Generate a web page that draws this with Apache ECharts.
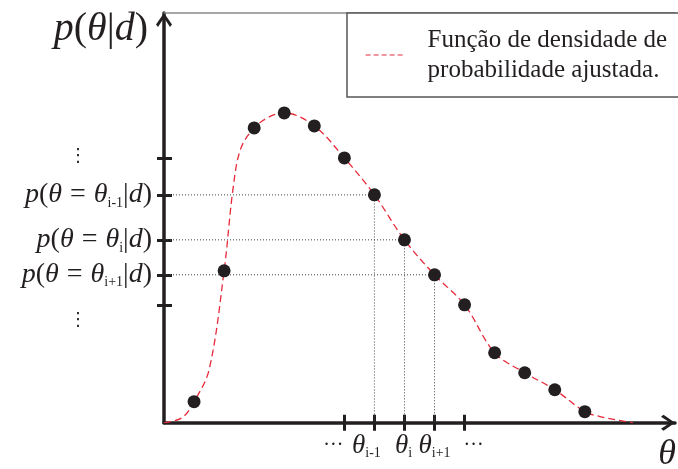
<!DOCTYPE html>
<html>
<head>
<meta charset="utf-8">
<script src="https://cdn.jsdelivr.net/npm/echarts@6/dist/echarts.min.js"></script>
<style>
  html, body { margin: 0; padding: 0; background: #fff; }
  #chart { width: 678px; height: 469px; }
</style>
</head>
<body>
<div id="chart"></div>
<script>
// Sampled posterior values p(theta_k | d) at the discrete theta positions
const theta = [1, 2, 3, 4, 5, 6, 7, 8, 9, 10, 11, 12, 13, 14];
const density = [2.1, 15.2, 29.5, 31.0, 29.7, 26.5, 22.8, 18.3, 14.8, 11.8, 7.0, 5.0, 3.3, 1.1];

// Fitted density curve
const curveTheta = [0, 0.6, 1, 1.5, 2, 2.3, 2.55, 3, 3.5, 4, 5, 6, 7, 8, 9, 10, 11, 12, 13, 14, 14.5, 15, 15.6];
const curveDensity = [0, 0.5, 2.1, 5.3, 15.2, 23.5, 27.4, 29.5, 30.6, 31.0, 29.7, 26.5, 22.8, 18.3, 14.8, 11.8, 7.0, 5.0, 3.3, 1.1, 0.62, 0.3, 0];

// Positions that carry axis ticks
const tickTheta = [6, 7, 8, 9, 10];
// Positions highlighted with dotted guide lines
const guideTheta = [7, 8, 9];

// Tick label pieces: main symbol and subscript
const xLabelMain = ['···', 'θ', 'θ', 'θ', '···'];
const xLabelSub = ['', 'i-1', 'i', 'i+1', ''];
const yLabelSub = ['', 'i-1', 'i', 'i+1', ''];

const legendName = 'Função de densidade de\nprobabilidade ajustada.';

const INK = '#231f20';
const RED = '#e62a3a';
const SERIF = 'Liberation Serif';

const densityAt = t => density[theta.indexOf(t)];
const yTickValues = tickTheta.map(densityAt);

function nearestIndex(list, v) {
  let best = 0;
  for (let i = 1; i < list.length; i++) {
    if (Math.abs(list[i] - v) < Math.abs(list[best] - v)) best = i;
  }
  return best;
}

// Horizontal nudges (px) for the x tick labels
const xNudge = [-11, -8, -1, 0, 9];

const xRich = {
  m: { fontFamily: SERIF, fontStyle: 'italic', fontSize: 27, color: INK, lineHeight: 30 },
  dots: { fontFamily: SERIF, fontSize: 20, color: INK, lineHeight: 30 },
  s: { fontFamily: SERIF, fontSize: 14, color: INK, lineHeight: 14, verticalAlign: 'bottom' }
};
xNudge.forEach((n, i) => {
  xRich['g' + i] = { width: Math.abs(n) * 2, fontSize: 10, lineHeight: 30 };
});

function xLabel(v) {
  const i = nearestIndex(tickTheta, v);
  const main = xLabelSub[i] ? '{m|' + xLabelMain[i] + '}{s|' + xLabelSub[i] + '}' : '{dots|' + xLabelMain[i] + '}';
  const gap = '{g' + i + '| }';
  return xNudge[i] < 0 ? main + gap : (xNudge[i] > 0 ? gap + main : main);
}

// Labels are split over two axes so their padded boxes never collide
const xLabelSetA = tickTheta.filter((t, i) => i % 2 === 0);
const xLabelSetB = tickTheta.filter((t, i) => i % 2 === 1);

const yRich = {
  it: { fontFamily: SERIF, fontStyle: 'italic', fontSize: 28, color: INK, lineHeight: 30 },
  rm: { fontFamily: SERIF, fontSize: 28, color: INK, lineHeight: 30 },
  eq: { fontFamily: SERIF, fontSize: 28, color: INK, lineHeight: 30, padding: [0, 8, 0, 8] },
  s: { fontFamily: SERIF, fontSize: 14, color: INK, lineHeight: 14, verticalAlign: 'bottom' },
  vt: { fontFamily: 'DejaVu Sans', fontSize: 18, color: INK, width: 148, align: 'center', padding: [0, 0, 4, 0] },
  vb: { fontFamily: 'DejaVu Sans', fontSize: 18, color: INK, width: 148, align: 'center', padding: [32, 0, 0, 0] }
};

const chevron = 'path://M8,0 L16,11.5 L14,14 L8,4.8 L2,14 L0,11.5 Z';

const chart = echarts.init(document.getElementById('chart'), null, { renderer: 'canvas' });

const guideSeries = guideTheta.map(t => ({
  type: 'line',
  xAxisIndex: 0,
  yAxisIndex: 0,
  data: [[0, densityAt(t)], [t, densityAt(t)], [t, 0]],
  showSymbol: false,
  symbol: 'none',
  silent: true,
  z: 1,
  lineStyle: { color: '#444', width: 1, type: [1, 2] }
}));

const baseX = { type: 'value', min: 0, max: 17, splitLine: { show: false } };

const option = {
  animation: false,
  backgroundColor: '#fff',
  grid: { left: 164, right: 3, top: 13, bottom: 46.3, containLabel: false, outerBoundsMode: 'none' },
  legend: {
    show: true,
    data: [legendName],
    left: 347,
    top: 13,
    padding: [12, 20, 12, 18],
    borderColor: '#555',
    borderWidth: 1.5,
    backgroundColor: '#fff',
    itemWidth: 40,
    itemHeight: 18,
    itemStyle: { opacity: 0 },
    lineStyle: { type: [5, 3], width: 1.2, color: RED },
    textStyle: { fontFamily: SERIF, fontSize: 25, color: INK, lineHeight: 30, padding: [0, 0, 0, 17] },
    selectedMode: false
  },
  xAxis: [
    Object.assign({}, baseX, {
      position: 'bottom',
      name: 'θ', nameLocation: 'end', nameGap: -8, nameMoveOverlap: false,
      nameTextStyle: { fontFamily: SERIF, fontStyle: 'italic', fontSize: 36, color: INK, align: 'center', verticalAlign: 'top', padding: [14, 0, 0, 0] },
      axisLine: { show: true, lineStyle: { color: INK, width: 3.5 }, symbol: ['none', chevron], symbolSize: [16, 14], symbolOffset: [0, -7] },
      axisTick: { show: true, inside: false, length: 8, lineStyle: { color: INK, width: 3 }, customValues: tickTheta },
      axisLabel: {
        show: true, margin: 8, customValues: xLabelSetA, rich: xRich,
        showMinLabel: true, showMaxLabel: true, hideOverlap: false, formatter: xLabel
      }
    }),
    Object.assign({}, baseX, {
      position: 'bottom',
      axisLine: { show: false },
      axisTick: { show: true, inside: true, length: 8, lineStyle: { color: INK, width: 3 }, customValues: tickTheta },
      axisLabel: {
        show: true, margin: 8, customValues: xLabelSetB, rich: xRich,
        showMinLabel: true, showMaxLabel: true, hideOverlap: false, formatter: xLabel
      }
    }),
    Object.assign({}, baseX, {
      position: 'top',
      axisLine: { show: true, lineStyle: { color: '#8a8a8a', width: 1.5 } },
      axisLabel: { show: false },
      axisTick: { show: false }
    })
  ],
  yAxis: [
    {
      type: 'value', min: 0, max: 41, position: 'left',
      name: '{it|p}{rm|(}{it|θ}{rm||}{it|d}{rm|)}', nameLocation: 'end', nameGap: -16, nameMoveOverlap: false,
      nameTextStyle: {
        align: 'right', verticalAlign: 'middle', padding: [0, 16, 0, 0],
        rich: {
          it: { fontFamily: SERIF, fontStyle: 'italic', fontSize: 40, color: INK },
          rm: { fontFamily: SERIF, fontSize: 40, color: INK }
        }
      },
      splitLine: { show: false },
      axisLine: { show: true, lineStyle: { color: INK, width: 3.5 }, symbol: ['none', chevron], symbolSize: [16, 14], symbolOffset: [0, -7] },
      axisTick: { show: true, inside: false, length: 7, lineStyle: { color: INK, width: 3 }, customValues: yTickValues },
      axisLabel: {
        show: true, margin: 12, customValues: yTickValues, rich: yRich,
        showMinLabel: true, showMaxLabel: true, hideOverlap: false,
        formatter: v => {
          const i = nearestIndex(yTickValues, v);
          if (!yLabelSub[i]) return i === 0 ? '{vt|⋮}' : '{vb|⋮}';
          return '{it|p}{rm|(}{it|θ}{eq|=}{it|θ}{s|' + yLabelSub[i] + '}{rm||}{it|d}{rm|)}';
        }
      }
    },
    {
      type: 'value', min: 0, max: 41, position: 'left', offset: 0,
      splitLine: { show: false },
      axisLine: { show: false },
      axisLabel: { show: false },
      axisTick: { show: true, inside: true, length: 8, lineStyle: { color: INK, width: 3 }, customValues: yTickValues }
    }
  ],
  series: [
    ...guideSeries,
    {
      name: legendName,
      type: 'line',
      xAxisIndex: 0,
      yAxisIndex: 0,
      data: curveTheta.map((t, i) => [t, curveDensity[i]]),
      smooth: 0.35,
      showSymbol: false,
      symbol: 'none',
      z: 2,
      lineStyle: { color: RED, width: 1.3, type: [7, 4] },
      itemStyle: { color: RED }
    },
    {
      type: 'scatter',
      xAxisIndex: 0,
      yAxisIndex: 0,
      data: theta.map((t, i) => [t, density[i]]),
      symbol: 'circle',
      symbolSize: 13,
      z: 3,
      itemStyle: { color: INK, opacity: 1 }
    }
  ]
};

chart.setOption(option);
</script>
</body>
</html>
